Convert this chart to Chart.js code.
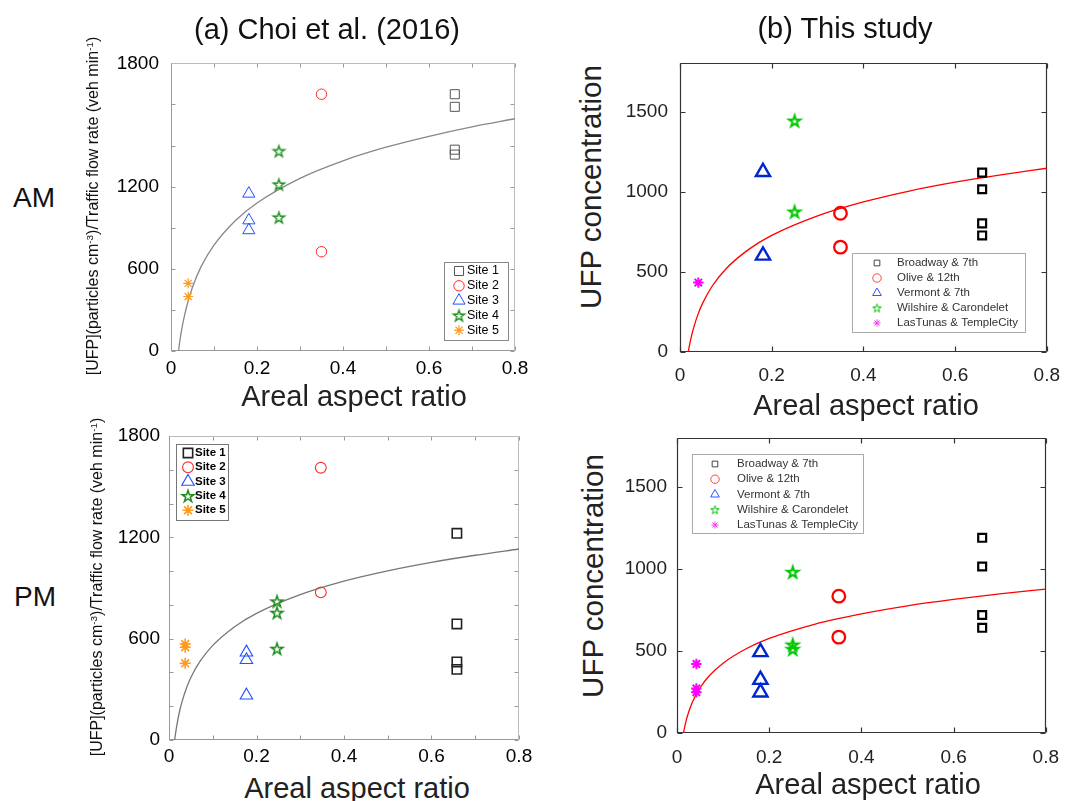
<!DOCTYPE html>
<html>
<head>
<meta charset="utf-8">
<script src="https://cdn.jsdelivr.net/npm/chart.js@4/dist/chart.umd.min.js"></script>
<style>
  body { margin: 0; background: #fff; }
  #page { position: relative; width: 1072px; height: 801px; overflow: hidden; font-family: 'Liberation Sans', Arial, sans-serif; color: #111; }
  canvas { position: absolute; }
  .lbl { position: absolute; transform: translate(-50%, -50%); white-space: nowrap; line-height: 1; }
  .rot { transform: translate(-50%, -50%) rotate(-90deg); }
  .sup { font-size: 0.62em; position: relative; top: -0.5em; }
</style>
</head>
<body>
<div id="page">
  <canvas id="choiAm" width="450" height="340" style="left:100px;top:40px"></canvas>
  <canvas id="choiPm" width="450" height="355" style="left:100px;top:415px"></canvas>
  <canvas id="studyAm" width="462" height="345" style="left:610px;top:40px"></canvas>
  <canvas id="studyPm" width="462" height="355" style="left:610px;top:415px"></canvas>

  <div class="lbl" style="left:327px;top:29px;font-size:29px">(a) Choi et al. (2016)</div>
  <div class="lbl" style="left:845px;top:28px;font-size:29px">(b) This study</div>
  <div class="lbl" style="left:34px;top:198px;font-size:28px">AM</div>
  <div class="lbl" style="left:35px;top:597px;font-size:28px">PM</div>

  <div class="lbl rot" style="left:93px;top:206px;font-size:16px">[UFP](particles cm<span class="sup">-3</span>)/Traffic flow rate (veh min<span class="sup">-1</span>)</div>
  <div class="lbl rot" style="left:97px;top:587px;font-size:16px">[UFP](particles cm<span class="sup">-3</span>)/Traffic flow rate (veh min<span class="sup">-1</span>)</div>
  <div class="lbl rot" style="left:591px;top:187px;font-size:29.5px;color:#222">UFP concentration</div>
  <div class="lbl rot" style="left:593px;top:576px;font-size:29.5px;color:#222">UFP concentration</div>

  <div class="lbl" style="left:354px;top:396px;font-size:29px;color:#222">Areal aspect ratio</div>
  <div class="lbl" style="left:357px;top:788px;font-size:29px;color:#222">Areal aspect ratio</div>
  <div class="lbl" style="left:866px;top:405px;font-size:29px;color:#222">Areal aspect ratio</div>
  <div class="lbl" style="left:868px;top:784px;font-size:29px;color:#222">Areal aspect ratio</div>
</div>

<script>
const font = "'Liberation Sans', Arial, sans-serif";

const choiSites = ['Site 1', 'Site 2', 'Site 3', 'Site 4', 'Site 5'];
const studySites = ['Broadway & 7th', 'Olive & 12th', 'Vermont & 7th', 'Wilshire & Carondelet', 'LasTunas & TempleCity'];

// tick positions and labels
const choiXTicks = [0, 0.1, 0.2, 0.3, 0.4, 0.5, 0.6, 0.7, 0.8];
const studyXTicks = [0, 0.2, 0.4, 0.6, 0.8];
const xTickValues = [0, 0.2, 0.4, 0.6, 0.8];
const xTickLabels = ['0', '0.2', '0.4', '0.6', '0.8'];
const choiAmYTicks = [0, 300, 600, 900, 1200, 1500, 1800, 2100];
const choiAmYTickValues = [0, 600, 1200, 2100];
const choiAmYTickLabels = ['0', '600', '1200', '1800'];
const choiPmYTicks = [0, 200, 400, 600, 800, 1000, 1200, 1400, 1600, 1800];
const choiPmYTickValues = [0, 600, 1200, 1800];
const choiPmYTickLabels = ['0', '600', '1200', '1800'];
const studyYTicks = [0, 500, 1000, 1500];
const studyYTickValues = [0, 500, 1000, 1500];
const studyYTickLabels = ['0', '500', '1000', '1500'];

// (a) AM
const choiAmSiteX = [0.66, 0.35, 0.181, 0.251, 0.04];
const choiAmSiteY = [[1875, 1783, 1470, 1434], [1875, 725], [1149, 954, 882], [1460, 1217, 976], [494, 398]];
const choiAmFitX = [0.0175, 0.02, 0.025, 0.03, 0.04, 0.05, 0.07, 0.1, 0.15, 0.2, 0.3, 0.4, 0.5, 0.6, 0.7, 0.8];
const choiAmFitY = [0, 60, 159, 239, 367, 466, 616, 773, 953, 1081, 1261, 1389, 1488, 1568, 1637, 1696];

// (a) PM
const choiPmSiteX = [0.658, 0.347, 0.177, 0.247, 0.037];
const choiPmSiteY = [[1224, 687, 462, 418], [1612, 874], [519, 474, 264], [821, 754, 541], [568, 549, 454]];
const choiPmFitX = [0.013, 0.015, 0.02, 0.025, 0.03, 0.04, 0.05, 0.07, 0.1, 0.15, 0.2, 0.3, 0.4, 0.5, 0.6, 0.7, 0.8];
const choiPmFitY = [0, 39, 118, 179, 229, 308, 370, 462, 560, 671, 750, 861, 941, 1002, 1052, 1094, 1131];

// (b) AM
const studyAmSiteX = [0.659, 0.35, 0.181, 0.25, 0.04];
const studyAmSiteY = [[1119, 1015, 802, 727], [865, 654], [1123, 602], [1442, 875], [433]];
const studyAmFitX = [0.018, 0.02, 0.025, 0.03, 0.04, 0.05, 0.07, 0.1, 0.15, 0.2, 0.3, 0.4, 0.5, 0.6, 0.7, 0.8];
const studyAmFitY = [0, 32, 99, 154, 241, 308, 410, 518, 640, 727, 849, 936, 1004, 1059, 1105, 1146];

// (b) PM
const studyPmSiteX = [0.662, 0.351, 0.181, 0.251, 0.042];
const studyPmSiteY = [[1191, 1016, 720, 642], [835, 585], [494, 325, 248], [982, 539, 512], [421, 272, 248]];
const studyPmFitX = [0.014, 0.015, 0.02, 0.025, 0.03, 0.04, 0.05, 0.07, 0.1, 0.15, 0.2, 0.3, 0.4, 0.5, 0.6, 0.7, 0.8];
const studyPmFitY = [0, 15, 77, 125, 165, 227, 276, 349, 426, 514, 577, 665, 727, 776, 815, 849, 878];

function pentagram(color, R, lw) {
  const s = Math.ceil(2 * R + 2 * lw + 2);
  const c = document.createElement('canvas');
  c.width = s; c.height = s;
  const g = c.getContext('2d');
  g.strokeStyle = color; g.lineWidth = lw; g.lineJoin = 'miter';
  g.beginPath();
  for (let i = 0; i < 10; i++) {
    const rr = i % 2 ? R * 0.382 : R;
    const a = -Math.PI / 2 + i * Math.PI / 5;
    const px = s / 2 + rr * Math.cos(a);
    const py = s / 2 + rr * Math.sin(a) + R * 0.1;
    if (i) g.lineTo(px, py); else g.moveTo(px, py);
  }
  g.closePath();
  g.stroke();
  return c;
}

const choiAmStyles = [
  { style: 'rect', color: '#555', r: 6.4, w: 1 },
  { style: 'circle', color: '#ff2a2a', r: 5.2, w: 1 },
  { style: 'triangle', color: '#2050ff', r: 7, w: 1 },
  { style: pentagram('#1a8c1a', 6, 1.3), color: '#1a8c1a', r: 6, w: 1.3 },
  { style: 'star', color: '#ff9a1a', r: 5, w: 1.2 },
];
const choiPmStyles = [
  { style: 'rect', color: '#222', r: 6.6, w: 1.6 },
  { style: 'circle', color: '#ff2a2a', r: 5.4, w: 1.1 },
  { style: 'triangle', color: '#2050ff', r: 7.2, w: 1.1 },
  { style: pentagram('#1a8c1a', 6.2, 1.5), color: '#1a8c1a', r: 6, w: 1.5 },
  { style: 'star', color: '#ff9a1a', r: 5.5, w: 1.6 },
];
const studyStyles = [
  { style: 'rect', color: '#000', r: 5.6, w: 2.2 },
  { style: 'circle', color: '#ff0000', r: 6.3, w: 2.3 },
  { style: 'triangle', color: '#0026d0', r: 8.2, w: 2.4 },
  { style: pentagram('#00c800', 6, 2), color: '#00c800', r: 6, w: 2 },
  { style: 'star', color: '#ff00ff', r: 5.2, w: 2 },
];
const studyLegendStyles = [
  { style: 'rect', color: '#444', r: 4, w: 1 },
  { style: 'circle', color: '#ff4444', r: 4.2, w: 1 },
  { style: 'triangle', color: '#3355ff', r: 5, w: 1 },
  { style: pentagram('#00c000', 4.5, 1), color: '#00c000', r: 4.5, w: 1 },
  { style: 'star', color: '#ff33ff', r: 3.6, w: 1 },
];

function siteSets(xs, ys, labels, styles, legendStyles) {
  return xs.map((x, i) => ({
    label: labels[i],
    data: ys[i].map((y) => ({ x, y })),
    showLine: false,
    pointStyle: styles[i].style,
    pointRadius: styles[i].r,
    pointBorderWidth: styles[i].w,
    pointBorderColor: styles[i].color,
    pointBackgroundColor: 'rgba(0,0,0,0)',
    legendMark: (legendStyles || styles)[i],
  }));
}

function fitSet(xs, ys, color) {
  return {
    type: 'line',
    label: 'fit',
    isFit: true,
    data: xs.map((x, i) => ({ x, y: ys[i] })),
    borderColor: color,
    borderWidth: 1.3,
    pointRadius: 0,
    fill: false,
    cubicInterpolationMode: 'monotone',
  };
}

const boxTicks = {
  id: 'boxTicks',
  beforeDatasetsDraw(chart, args, o) {
    const { ctx, chartArea: a } = chart;
    const x = chart.scales.x, y = chart.scales.y;
    const L = Math.round(a.left) + 0.5, R = Math.round(a.right) - 0.5;
    const T = Math.round(a.top) + 0.5, B = Math.round(a.bottom) - 0.5;
    ctx.save();
    ctx.lineWidth = o.width;
    ctx.strokeStyle = o.tickColor;
    ctx.beginPath();
    x.ticks.forEach((t) => {
      const px = Math.round(x.getPixelForValue(t.value)) + 0.5;
      ctx.moveTo(px, B); ctx.lineTo(px, B - o.len);
      ctx.moveTo(px, T); ctx.lineTo(px, T + o.len);
    });
    y.ticks.forEach((t) => {
      const py = Math.round(y.getPixelForValue(t.value)) + 0.5;
      ctx.moveTo(L, py); ctx.lineTo(L + o.len, py);
      ctx.moveTo(R, py); ctx.lineTo(R - o.len, py);
    });
    ctx.stroke();
    ctx.strokeStyle = o.farColor;
    ctx.beginPath();
    ctx.moveTo(L, T); ctx.lineTo(R, T); ctx.lineTo(R, B);
    ctx.stroke();
    ctx.strokeStyle = o.nearColor;
    ctx.beginPath();
    ctx.moveTo(L, T); ctx.lineTo(L, B); ctx.lineTo(R, B);
    ctx.stroke();
    ctx.restore();
  },
};

const boxLegend = {
  id: 'boxLegend',
  afterDatasetsDraw(chart, args, o) {
    const ctx = chart.ctx;
    ctx.save();
    ctx.fillStyle = '#fff';
    ctx.fillRect(o.x, o.y, o.w, o.h);
    ctx.strokeStyle = o.border;
    ctx.lineWidth = 1;
    ctx.strokeRect(o.x + 0.5, o.y + 0.5, o.w, o.h);
    ctx.font = `${o.weight || 'normal'} ${o.size}px ${font}`;
    ctx.textBaseline = 'middle';
    chart.data.datasets.filter((d) => !d.isFit).forEach((d, i) => {
      const cy = o.rowY + i * o.rowGap;
      const m = d.legendMark;
      ctx.strokeStyle = m.color;
      ctx.fillStyle = 'rgba(0,0,0,0)';
      ctx.lineWidth = m.w;
      Chart.helpers.drawPoint(ctx, { pointStyle: m.style, radius: m.r, borderWidth: m.w, rotation: 0 }, o.markerX, cy);
      ctx.fillStyle = o.color;
      ctx.fillText(d.label, o.textX, cy);
    });
    ctx.restore();
  },
};

function pickLabel(values, labels) {
  return (v) => {
    const i = values.findIndex((t) => Math.abs(t - v) < 1e-6);
    return i >= 0 ? labels[i] : '';
  };
}

function makePanel(id, p) {
  new Chart(document.getElementById(id), {
    type: 'scatter',
    data: { datasets: p.datasets },
    plugins: [boxTicks, boxLegend],
    options: {
      responsive: false,
      animation: false,
      events: [],
      layout: { padding: { top: p.padTop, right: p.padRight, left: 0, bottom: 0 } },
      plugins: {
        legend: { display: false },
        tooltip: { enabled: false },
        boxTicks: p.axis,
        boxLegend: p.legend,
      },
      scales: {
        x: {
          type: 'linear', min: 0, max: 0.8,
          grid: { display: false, drawTicks: false },
          border: { display: false },
          afterBuildTicks: (s) => { s.ticks = p.xTicks.map((value) => ({ value })); },
          ticks: {
            autoSkip: false, maxRotation: 0, padding: p.xPad,
            color: p.tickColor, font: { size: 19, family: font },
            callback: pickLabel(xTickValues, xTickLabels),
          },
          afterFit: (s) => { s.height = p.xHeight; },
        },
        y: {
          type: 'linear', min: 0, max: p.yMax,
          grid: { display: false, drawTicks: false },
          border: { display: false },
          afterBuildTicks: (s) => { s.ticks = p.yTicks.map((value) => ({ value })); },
          ticks: {
            autoSkip: false, padding: p.yPad,
            color: p.tickColor, font: { size: 19, family: font },
            callback: pickLabel(p.yValues, p.yLabels),
          },
          afterFit: (s) => { s.width = p.yWidth; },
        },
      },
    },
  });
}

const choiAxis = { width: 1, len: 4, tickColor: '#999', nearColor: '#999', farColor: '#bbb' };
const studyAxis = { width: 1.2, len: 5, tickColor: '#333', nearColor: '#333', farColor: '#333' };

makePanel('choiAm', {
  datasets: [...siteSets(choiAmSiteX, choiAmSiteY, choiSites, choiAmStyles), fitSet(choiAmFitX, choiAmFitY, '#888')],
  padTop: 21, padRight: 35, yWidth: 71, xHeight: 29, xPad: 6, yPad: 12,
  xTicks: choiXTicks, yMax: 2100, yTicks: choiAmYTicks, yValues: choiAmYTickValues, yLabels: choiAmYTickLabels,
  tickColor: '#000', axis: choiAxis,
  legend: { x: 344, y: 222, w: 64, h: 78, rowY: 231, rowGap: 14.8, markerX: 359, textX: 367, size: 12.5, color: '#000', border: '#888' },
});

makePanel('choiPm', {
  datasets: [...siteSets(choiPmSiteX, choiPmSiteY, choiSites, choiPmStyles), fitSet(choiPmFitX, choiPmFitY, '#777')],
  padTop: 21, padRight: 31, yWidth: 69, xHeight: 30, xPad: 5, yPad: 9,
  xTicks: choiXTicks, yMax: 1800, yTicks: choiPmYTicks, yValues: choiPmYTickValues, yLabels: choiPmYTickLabels,
  tickColor: '#000', axis: choiAxis,
  legend: { x: 76, y: 29, w: 52, h: 76, rowY: 38, rowGap: 14.3, markerX: 88, textX: 95, size: 11.5, weight: 'bold', color: '#000', border: '#777' },
});

makePanel('studyAm', {
  datasets: [...siteSets(studyAmSiteX, studyAmSiteY, studySites, studyStyles, studyLegendStyles), fitSet(studyAmFitX, studyAmFitY, '#ff0000')],
  padTop: 23, padRight: 15, yWidth: 70, xHeight: 33, xPad: 12, yPad: 12,
  xTicks: studyXTicks, yMax: 1800, yTicks: studyYTicks, yValues: studyYTickValues, yLabels: studyYTickLabels,
  tickColor: '#222', axis: studyAxis,
  legend: { x: 242, y: 213, w: 173, h: 79, rowY: 223, rowGap: 15, markerX: 267, textX: 287, size: 11.5, color: '#333', border: '#aaa' },
});

makePanel('studyPm', {
  datasets: [...siteSets(studyPmSiteX, studyPmSiteY, studySites, studyStyles, studyLegendStyles), fitSet(studyPmFitX, studyPmFitY, '#ff0000')],
  padTop: 23, padRight: 19, yWidth: 67, xHeight: 37, xPad: 13, yPad: 10,
  xTicks: studyXTicks, yMax: 1800, yTicks: studyYTicks, yValues: studyYTickValues, yLabels: studyYTickLabels,
  tickColor: '#222', axis: studyAxis,
  legend: { x: 82, y: 39, w: 171, h: 79, rowY: 49, rowGap: 15.25, markerX: 105, textX: 127, size: 11.5, color: '#333', border: '#aaa' },
});
</script>
</body>
</html>
